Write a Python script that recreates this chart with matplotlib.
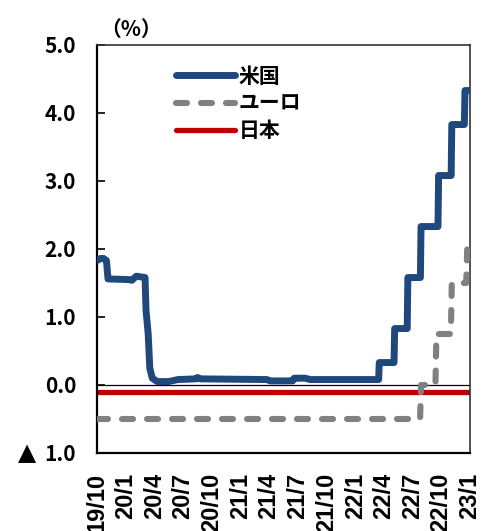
import pandas as pd
import matplotlib
matplotlib.use("Agg")
import matplotlib.pyplot as plt
import matplotlib.transforms as mtransforms

plt.rcParams["font.family"] = ["Noto Sans CJK JP", "DejaVu Sans"]
plt.rcParams["lines.scale_dashes"] = False

# 米国（実効FF金利）
us_dates = ["2019-10-01", "2019-10-12", "2019-10-22", "2019-10-31", "2019-11-05",
            "2020-01-10", "2020-01-20", "2020-02-03", "2020-03-02", "2020-03-05",
            "2020-03-12", "2020-03-17", "2020-03-25", "2020-04-10", "2020-05-15",
            "2020-06-15", "2020-08-10", "2020-08-16", "2020-08-25", "2021-03-25",
            "2021-04-05", "2021-06-15", "2021-06-20", "2021-07-25", "2021-08-10",
            "2022-03-16", "2022-03-18", "2022-05-04", "2022-05-06", "2022-06-15",
            "2022-06-17", "2022-07-27", "2022-07-29", "2022-09-21", "2022-09-23",
            "2022-11-02", "2022-11-04", "2022-12-14", "2022-12-16", "2023-01-01"]
us_values = [1.83, 1.86, 1.86, 1.83, 1.56,
             1.55, 1.54, 1.60, 1.58, 1.10,
             0.75, 0.25, 0.10, 0.05, 0.05,
             0.08, 0.09, 0.11, 0.09, 0.08,
             0.06, 0.06, 0.10, 0.10, 0.08,
             0.08, 0.33, 0.33, 0.83, 0.83,
             1.58, 1.58, 2.33, 2.33, 3.08,
             3.08, 3.83, 3.83, 4.33, 4.33]

# ユーロ（預金ファシリティ金利）
eu_dates = ["2019-10-01", "2022-07-26", "2022-07-29", "2022-09-13", "2022-09-16",
            "2022-11-01", "2022-11-04", "2022-12-20", "2022-12-23"]
eu_values = [-0.5, -0.5, 0.0, 0.0, 0.75, 0.75, 1.5, 1.5, 2.0]

# 日本（政策金利残高）
jp_dates = ["2019-10-01", "2023-01-01"]
jp_values = [-0.1, -0.1]

tick_dates = pd.date_range("2019-10-01", "2023-01-01", freq="QS-OCT")
tick_labels = [f"{d.year % 100}/{d.month}" for d in tick_dates]
y_ticks = [-1, 0, 1, 2, 3, 4, 5]
y_labels = ["1.0", "0.0", "1.0", "2.0", "3.0", "4.0", "5.0"]

fig = plt.figure(figsize=(4.92, 5.31), dpi=100)
ax = fig.add_axes([0.1972, 0.1469, 0.7581, 0.7684])

ax.axhline(0, color="black", lw=0.9, zorder=1)
ax.plot(pd.to_datetime(us_dates), us_values, color="#1F497D", lw=5.0,
        solid_capstyle="round", solid_joinstyle="round", label="米国", zorder=4)
ax.plot(pd.to_datetime(eu_dates), eu_values, color="#808080", lw=4.4,
        dashes=(7.9, 10.1), dash_capstyle="round", dash_joinstyle="round",
        label="ユーロ", zorder=3)
ax.plot(pd.to_datetime(jp_dates), jp_values, color="#C00000", lw=3.8,
        solid_capstyle="butt", label="日本", zorder=2)

ax.set_xlim(pd.Timestamp("2019-10-01"), pd.Timestamp("2023-01-01"))
ax.set_ylim(-1, 5)
ax.set_xticks(tick_dates)
ax.set_xticklabels(tick_labels, rotation=90, fontsize=17, fontweight="bold",
                   family=["Liberation Sans", "DejaVu Sans"], va="top")
ax.set_yticks(y_ticks)
ax.set_yticklabels(y_labels, fontsize=15, fontweight="bold")
ax.tick_params(axis="x", length=0, pad=14)
ax.tick_params(axis="y", direction="in", length=6, width=1.2, pad=15)

# マイナス記号の代わりの▲
trans = mtransforms.blended_transform_factory(ax.transAxes, ax.transData)
ax.text(-0.187, -1, "▲", transform=trans, fontsize=17, ha="center",
        va="center", family=["DejaVu Sans"])

for side in ["left", "bottom"]:
    ax.spines[side].set_linewidth(1.6)
for side in ["top", "right"]:
    ax.spines[side].set_linewidth(1.2)
    ax.spines[side].set_color("#333333")

leg = ax.legend(loc="upper left", bbox_to_anchor=(0.162, 0.995), frameon=False,
                prop={"size": 15, "weight": "bold"}, handlelength=2.8,
                handletextpad=0.2, labelspacing=0.3)
for line in leg.get_lines():
    line.set_solid_capstyle("round")

fig.text(0.266, 0.945, "（%）", fontsize=15, fontweight="bold",
         ha="center", va="center")

fig.savefig("out.png", dpi=100)
